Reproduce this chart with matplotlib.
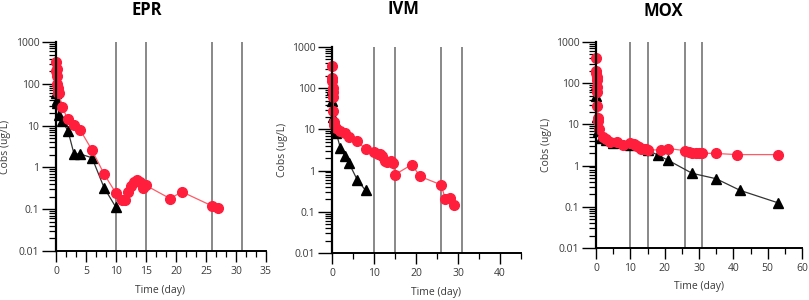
import numpy as np
import matplotlib.pyplot as plt
from matplotlib.ticker import LogLocator, FixedLocator, NullFormatter, AutoMinorLocator

# EPR
epr_red_t = [0.05, 0.08, 0.1, 0.15, 0.2, 0.25, 0.3, 0.4, 0.5, 1, 2, 3, 4, 6, 8, 10, 11, 11.5,
             12, 12.5, 13, 13.5, 14, 14.5, 15, 19, 21, 26, 27]
epr_red_c = [200, 330, 220, 150, 100, 80, 70, 60, 60, 28, 14, 10.5, 8, 2.6, 0.7, 0.24, 0.17, 0.17,
             0.26, 0.35, 0.45, 0.5, 0.45, 0.33, 0.37, 0.18, 0.26, 0.12, 0.105]
epr_blk_t = [0, 0.1, 0.2, 0.5, 1, 2, 3, 4, 6, 8, 10]
epr_blk_c = [60, 42, 35, 18, 13, 7.5, 2.1, 2.1, 1.7, 0.33, 0.11]

# IVM
ivm_red_t = [0.05, 0.08, 0.1, 0.15, 0.2, 0.25, 0.3, 0.4, 0.5, 1, 2, 3, 4, 6, 8, 10, 11, 11.5,
             12, 12.5, 13, 14, 14.5, 15, 19, 21, 26, 27, 28, 29]
ivm_red_c = [350, 180, 150, 100, 80, 60, 28, 15, 13, 11, 9, 8, 6.6, 5.2, 3.3, 2.8, 2.6, 2.5,
             2.3, 1.7, 1.6, 1.7, 1.5, 0.8, 1.4, 0.72, 0.45, 0.2, 0.22, 0.15]
ivm_blk_t = [0, 0.1, 0.3, 0.6, 1, 2, 3, 4, 6, 8]
ivm_blk_c = [95, 50, 20, 11, 8.3, 3.5, 2.3, 1.55, 0.6, 0.33]

# MOX
mox_red_t = [0.05, 0.08, 0.1, 0.15, 0.2, 0.25, 0.3, 0.4, 0.5, 0.7, 1, 2, 3, 4, 6, 8, 10, 11, 11.5,
             12, 12.5, 13, 14, 14.5, 15, 19, 21, 26, 27, 28, 29, 30, 31, 35, 41, 53]
mox_red_c = [420, 200, 180, 140, 120, 80, 60, 28, 14, 12, 7.6, 5, 4.5, 3.8, 3.8, 3.2, 3.6, 3.4, 3.2,
             3.0, 2.8, 2.6, 2.5, 2.5, 2.4, 2.4, 2.6, 2.3, 2.1, 2.05, 2.0, 2.0, 2.0, 1.97, 1.85, 1.85]
mox_blk_t = [0, 0.1, 0.3, 0.6, 1.5, 3, 5, 10, 15, 18, 21, 28, 35, 42, 53]
mox_blk_c = [90, 50, 15, 7, 4.7, 4.3, 3.6, 3.2, 2.4, 1.8, 1.35, 0.65, 0.48, 0.25, 0.125]

vlines = [10, 15, 26, 31]
yticks = [0.01, 0.1, 1, 10, 100, 1000]
ytick_labels = ['0.01', '0.1', '1', '10', '100', '1000']

panels = [
    ("EPR", epr_red_t, epr_red_c, epr_blk_t, epr_blk_c, 35, [0, 5, 10, 15, 20, 25, 30, 35], 3),
    ("IVM", ivm_red_t, ivm_red_c, ivm_blk_t, ivm_blk_c, 45, [0, 10, 20, 30, 40], 2),
    ("MOX", mox_red_t, mox_red_c, mox_blk_t, mox_blk_c, 60, [0, 10, 20, 30, 40, 50, 60], 2),
]

# layout in pixels
boxes = [(56, 266, 42, 251), (332, 521, 47, 253), (596, 802, 42, 248)]  # left, right, top, bottom
title_pos = [(147, 10), (403, 9), (663, 11)]
ylabel_x = [6, 283, 547]
xlabel_pos = [(160, 290), (436, 292), (699, 287)]
W, H = 809, 300

plt.rcParams['font.family'] = ['Open Sans', 'DejaVu Sans']
fig = plt.figure(figsize=(W / 100, H / 100), dpi=100)

red = '#ff1f3d'
txt = '#3a3a3a'

for i, (name, rt, rc, bt, bc, xmax, xticks, nminor) in enumerate(panels):
    l, r, t, b = boxes[i]
    ax = fig.add_axes([l / W, 1 - b / H, (r - l) / W, (b - t) / H])
    ax.set_xlim(0, xmax)
    ax.set_yscale('log')
    ax.set_ylim(0.01, 1000)
    for v in vlines:
        ax.axvline(v, color='#7f7f7f', lw=1.3, zorder=1)
    ax.plot(bt, bc, color='#333333', lw=0.9, marker='^', ms=6.5, mfc='black', mec='black',
            zorder=3, clip_on=False)
    ax.plot(rt, rc, color='#ff5a66', lw=0.9, marker='o', ms=7, mfc=red, mec=red,
            zorder=4, clip_on=False)

    ax.spines['top'].set_visible(False)
    ax.spines['right'].set_visible(False)
    ax.spines['left'].set_linewidth(1.6)
    ax.spines['bottom'].set_linewidth(1.4)
    ax.spines['left'].set_zorder(5)

    ax.yaxis.set_major_locator(FixedLocator(yticks))
    ax.set_yticklabels(ytick_labels)
    ax.yaxis.set_minor_locator(LogLocator(base=10, subs=np.arange(2, 10), numticks=20))
    ax.yaxis.set_minor_formatter(NullFormatter())
    ax.tick_params(axis='y', which='major', length=10, width=1, color='black',
                   labelcolor=txt, labelsize=7.5, pad=2)
    ax.tick_params(axis='y', which='minor', length=5, width=0.9, color='black')

    ax.set_xticks(xticks)
    ax.xaxis.set_minor_locator(AutoMinorLocator(nminor))
    ax.tick_params(axis='x', which='major', length=8, width=1, labelcolor=txt,
                   labelsize=7.5, pad=3)
    ax.tick_params(axis='x', which='minor', length=4, width=0.9)

    fig.text(ylabel_x[i] / W, 1 - ((t + b) / 2) / H, 'Cobs (ug/L)', rotation=90,
             ha='center', va='center', fontsize=7.5, color=txt)
    fig.text(xlabel_pos[i][0] / W, 1 - xlabel_pos[i][1] / H, 'Time (day)',
             ha='center', va='center', fontsize=7.5, color=txt)
    fig.text(title_pos[i][0] / W, 1 - title_pos[i][1] / H, name,
             ha='center', va='center', fontsize=12, fontweight='bold')

fig.savefig('out.png', dpi=100)
